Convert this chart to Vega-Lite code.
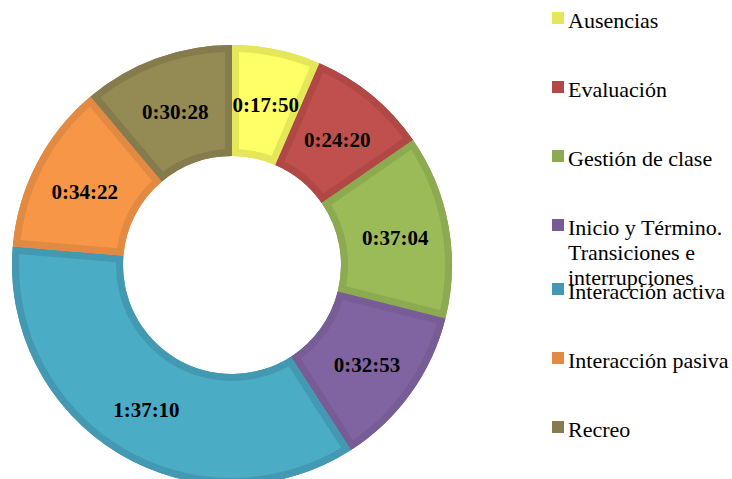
{
  "$schema": "https://vega.github.io/schema/vega-lite/v6.json",
  "autosize": "none",
  "width": 464,
  "height": 530,
  "padding": {"left": 0, "top": 0, "right": 268, "bottom": -51},
  "background": "white",
  "data": {
    "values": [
      {"cat": "Ausencias", "sec": 1070, "label": "0:17:50"},
      {"cat": "Evaluación", "sec": 1460, "label": "0:24:20"},
      {"cat": "Gestión de clase", "sec": 2224, "label": "0:37:04"},
      {"cat": "Inicio y Término. Transiciones e interrupciones", "sec": 1973, "label": "0:32:53"},
      {"cat": "Interacción activa", "sec": 5830, "label": "1:37:10"},
      {"cat": "Interacción pasiva", "sec": 2062, "label": "0:34:22"},
      {"cat": "Recreo", "sec": 1828, "label": "0:30:28"}
    ]
  },
  "layer": [
    {
      "mark": {"type": "arc", "radius": 220, "radius2": 109},
      "encoding": {
        "theta": {"field": "sec", "type": "quantitative", "stack": true},
        "order": {"field": "cat"},
        "color": {
          "field": "cat",
          "type": "nominal",
          "scale": {
            "domain": ["Ausencias", "Evaluación", "Gestión de clase", "Inicio y Término. Transiciones e interrupciones", "Interacción activa", "Interacción pasiva", "Recreo"],
            "range": ["#e6e65a", "#b04845", "#8caa50", "#775c96", "#4399b1", "#e28a41", "#867b4c"]
          },
          "legend": {
            "legendY": 279,
            "values": ["Interacción activa", "Interacción pasiva", "Recreo"]
          }
        }
      }
    },
    {
      "mark": {"type": "arc", "radius": 220, "radius2": 109},
      "encoding": {
        "theta": {"field": "sec", "type": "quantitative", "stack": true},
        "order": {"field": "cat"},
        "color": {
          "field": "cat",
          "type": "nominal",
          "scale": {
            "domain": ["Ausencias", "Evaluación", "Gestión de clase", "Inicio y Término. Transiciones e interrupciones", "Interacción activa", "Interacción pasiva", "Recreo"],
            "range": ["#e6e65a", "#b04845", "#8caa50", "#775c96", "#4399b1", "#e28a41", "#867b4c"]
          },
          "legend": {
            "legendY": 8,
            "values": ["Ausencias", "Evaluación", "Gestión de clase", "Inicio y Término. Transiciones e interrupciones"],
            "labelExpr": "datum.label == 'Inicio y Término. Transiciones e interrupciones' ? ['Inicio y Término.', 'Transiciones e', 'interrupciones'] : datum.label"
          }
        }
      }
    },
    {
      "mark": {"type": "arc", "radius": 213, "radius2": 116, "padAngle": 0.058},
      "encoding": {
        "theta": {"field": "sec", "type": "quantitative", "stack": true},
        "order": {"field": "cat"},
        "color": {
          "field": "cat",
          "type": "nominal",
          "scale": {
            "domain": ["Ausencias", "Evaluación", "Gestión de clase", "Inicio y Término. Transiciones e interrupciones", "Interacción activa", "Interacción pasiva", "Recreo"],
            "range": ["#ffff66", "#c0504d", "#9bbb59", "#8064a2", "#4bacc6", "#f79646", "#948a54"]
          },
          "legend": null
        }
      }
    },
    {
      "mark": {"type": "text", "radius": 166, "dy": 4, "font": "Liberation Serif", "fontSize": 21, "fontWeight": "bold", "color": "#000000"},
      "encoding": {
        "theta": {"field": "sec", "type": "quantitative", "stack": true},
        "order": {"field": "cat"},
        "detail": {"field": "cat"},
        "text": {"field": "label"}
      }
    }
  ],
  "resolve": {"scale": {"color": "independent"}},
  "config": {
    "view": {"stroke": null},
    "legend": {
      "orient": "none",
      "legendX": 547,
      "title": null,
      "padding": 0,
      "symbolType": "square",
      "symbolSize": 144,
      "symbolStrokeWidth": 0,
      "labelFont": "Liberation Serif",
      "labelFontSize": 22,
      "labelColor": "#000000",
      "labelOffset": -1,
      "labelLimit": 400,
      "labelBaseline": "alphabetic",
      "clipHeight": 20,
      "rowPadding": 45
    },
    "style": {"guide-label": {"font": "Liberation Serif", "dy": 10, "lineHeight": 25}}
  }
}
